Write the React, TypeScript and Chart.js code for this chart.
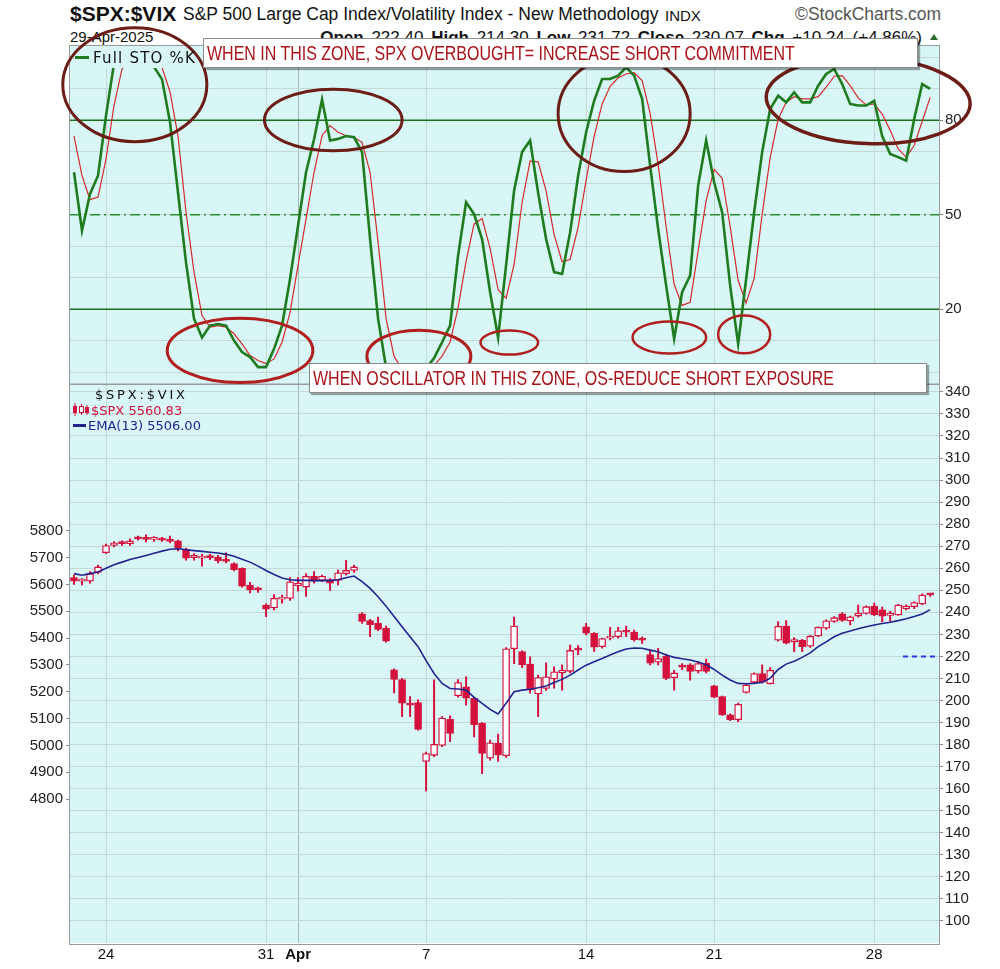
import React, { useEffect, useRef } from 'react';
import { Chart, registerables } from 'chart.js';

Chart.register(...registerables);

// ---------------- data (2-hour bars, 4 per session, 21-Mar .. 29-Apr-2025) ----------------
const sessions = ['Mar 21', 'Mar 24', 'Mar 25', 'Mar 26', 'Mar 27', 'Mar 28', 'Mar 31', 'Apr 1', 'Apr 2', 'Apr 3', 'Apr 4',
  'Apr 7', 'Apr 8', 'Apr 9', 'Apr 10', 'Apr 11', 'Apr 14', 'Apr 15', 'Apr 16', 'Apr 17', 'Apr 21', 'Apr 22', 'Apr 23',
  'Apr 24', 'Apr 25', 'Apr 28', 'Apr 29'];
const barsPerSession = 4;

const xTickBars = [4, 24, 28, 44, 64, 80, 100];
const xTickLabels = ['24', '31', 'Apr', '7', '14', '21', '28'];
const monthStartBar = 28;

const stoGridValues = [0, 10, 20, 30, 40, 50, 60, 70, 80, 90, 100];
const stoLabelValues = [20, 50, 80];
const overboughtLevel = 80;
const oversoldLevel = 20;
const midLevel = 50;

const ratioTickValues = [100, 110, 120, 130, 140, 150, 160, 170, 180, 190, 200, 210, 220, 230, 240, 250, 260, 270, 280, 290, 300, 310, 320, 330, 340];
const spxTickValues = [4800, 4900, 5000, 5100, 5200, 5300, 5400, 5500, 5600, 5700, 5800];
const ratioMarkerLevel = 220;
const ratioMarkerFromBar = 103.6;

const opens = [
  5625, 5612, 5612, 5645, 5718, 5745, 5756, 5752, 5775, 5770,
  5768, 5772, 5768, 5762, 5732, 5700, 5698, 5705, 5702, 5692,
  5678, 5660, 5597, 5585, 5523, 5512, 5545, 5548, 5595, 5590,
  5630, 5615, 5618, 5615, 5640, 5652, 5490, 5465, 5455, 5436,
  5282, 5245, 5157, 5160, 4940, 4963, 5000, 5097, 5185, 5218,
  5175, 5082, 4952, 5008, 4962, 5360, 5350, 5303, 5192, 5212,
  5248, 5270, 5276, 5356, 5442, 5418, 5368, 5400, 5405, 5426,
  5422, 5396, 5338, 5310, 5332, 5252, 5298, 5300, 5277, 5306,
  5222, 5182, 5114, 5096, 5197, 5235, 5268, 5230, 5392, 5445,
  5386, 5392, 5370, 5408, 5437, 5462, 5490, 5464, 5482, 5492,
  5518, 5505, 5484, 5486, 5510, 5517, 5527, 5563];
const highs = [
  5635, 5622, 5648, 5672, 5750, 5760, 5762, 5770, 5780, 5785,
  5778, 5775, 5780, 5765, 5735, 5715, 5712, 5712, 5708, 5718,
  5680, 5662, 5608, 5590, 5528, 5562, 5560, 5625, 5625, 5640,
  5648, 5635, 5622, 5653, 5690, 5672, 5495, 5470, 5478, 5445,
  5285, 5250, 5182, 5170, 4975, 5244, 5107, 5110, 5245, 5256,
  5180, 5085, 5020, 5042, 5365, 5478, 5352, 5330, 5262, 5308,
  5293, 5300, 5374, 5372, 5455, 5420, 5400, 5440, 5440, 5445,
  5430, 5405, 5356, 5362, 5340, 5280, 5305, 5305, 5312, 5322,
  5224, 5184, 5118, 5158, 5230, 5270, 5300, 5290, 5461, 5465,
  5402, 5395, 5410, 5442, 5468, 5480, 5495, 5482, 5523, 5520,
  5530, 5515, 5500, 5526, 5524, 5535, 5565, 5566];
const lows = [
  5600, 5598, 5605, 5640, 5715, 5740, 5745, 5745, 5765, 5758,
  5760, 5760, 5755, 5725, 5690, 5690, 5668, 5692, 5680, 5680,
  5650, 5590, 5568, 5570, 5480, 5505, 5530, 5540, 5575, 5555,
  5605, 5610, 5578, 5598, 5635, 5645, 5455, 5405, 5428, 5385,
  5196, 5107, 5107, 5057, 4830, 4958, 4995, 5014, 5180, 5150,
  5032, 4895, 4945, 4940, 4955, 5305, 5290, 5195, 5107, 5205,
  5213, 5206, 5270, 5338, 5412, 5350, 5362, 5393, 5400, 5405,
  5388, 5380, 5300, 5300, 5245, 5206, 5282, 5243, 5270, 5270,
  5178, 5112, 5092, 5088, 5195, 5232, 5232, 5228, 5388, 5378,
  5349, 5349, 5365, 5405, 5432, 5458, 5462, 5449, 5478, 5489,
  5483, 5461, 5462, 5484, 5505, 5510, 5524, 5555];
const closes = [
  5612, 5618, 5640, 5665, 5745, 5755, 5752, 5762, 5770, 5768,
  5770, 5765, 5760, 5735, 5698, 5708, 5702, 5700, 5688, 5686,
  5655, 5593, 5580, 5580, 5508, 5548, 5550, 5610, 5605, 5630,
  5612, 5630, 5605, 5643, 5652, 5665, 5462, 5450, 5432, 5388,
  5246, 5157, 5150, 5060, 4970, 5004, 5102, 5045, 5234, 5176,
  5077, 4970, 5010, 4965, 5360, 5445, 5300, 5207, 5253, 5256,
  5274, 5280, 5354, 5355, 5418, 5366, 5398, 5404, 5427, 5422,
  5394, 5392, 5306, 5324, 5250, 5270, 5292, 5276, 5305, 5276,
  5180, 5114, 5096, 5153, 5225, 5268, 5236, 5280, 5444, 5381,
  5394, 5368, 5407, 5440, 5464, 5476, 5466, 5479, 5492, 5517,
  5487, 5482, 5492, 5523, 5519, 5532, 5560, 5560.83];

const ema13 = [
  5640, 5634, 5640, 5646, 5660, 5673, 5683, 5693, 5700, 5708,
  5716, 5724, 5731, 5733, 5729, 5726, 5723, 5720, 5717, 5712,
  5705, 5694, 5683, 5668, 5652, 5637, 5624, 5617, 5615, 5615,
  5614, 5615, 5614, 5617, 5625, 5631, 5610, 5585, 5554, 5519,
  5480, 5442, 5405, 5368, 5316, 5268, 5231, 5212, 5210, 5206,
  5179, 5157, 5134, 5117, 5157, 5200, 5206, 5209, 5215, 5221,
  5234, 5246, 5262, 5281, 5299, 5312, 5324, 5337, 5349, 5359,
  5363, 5362, 5355, 5349, 5337, 5328, 5323, 5318, 5311, 5301,
  5283, 5262, 5244, 5231, 5230, 5231, 5235, 5250, 5283, 5303,
  5314, 5328, 5345, 5368, 5386, 5405, 5418, 5426, 5435, 5442,
  5449, 5454, 5459, 5465, 5472, 5480, 5490, 5506];

const stoK = [
  63.5, 45, 56.6, 62.4, 81.5, 98, 100, 100, 100, 99,
  97, 93, 79.4, 57, 34.8, 17, 11, 14.8, 15.3, 14.8,
  10, 6.4, 4.8, 1.6, 1.6, 7.4, 14.8, 29.6, 46.6, 63.5,
  74, 86.6, 73.6, 74.1, 75, 74.6, 69.9, 42.3, 17, 1.5,
  0.5, 0.8, 0.3, 0.5, 1.2, 4.5, 9.5, 14.8, 37, 54,
  50.2, 42.3, 25.4, 11, 34, 57.7, 69.9, 73.6, 57, 42.3,
  31.8, 31.2, 44.4, 62.4, 76.2, 86.2, 93.1, 93.1, 94.2, 96.8,
  94.2, 86.8, 65.6, 45.5, 27.5, 10.6, 25.4, 30.7, 59.3, 73.6,
  60.3, 50.8, 27.5, 9, 29.6, 50.8, 69.9, 83.6, 87.8, 85.7,
  88.9, 85.7, 85.7, 91, 94.7, 96.3, 91.5, 85.2, 84.7, 84.7,
  86.2, 75, 69.3, 68.3, 67.2, 80.4, 91.5, 90];
const stoD = [
  75, 62.4, 54.8, 55.6, 67.7, 84.7, 96.3, 99, 100, 99.7,
  98.6, 96.8, 89, 75, 50.8, 31.8, 18, 14.3, 14.8, 14.3,
  12.2, 9, 5.3, 3.7, 2.7, 4.2, 9.5, 19, 33.9, 48.7,
  63.5, 75.1, 78.3, 76.2, 75.1, 74.6, 73, 63.5, 41.3, 17,
  5, 1, 0.5, 0.5, 0.7, 2.1, 5.1, 9.6, 20.4, 35.3,
  47.1, 48.8, 39.3, 26.2, 23.5, 34.2, 53.9, 67.1, 66.8, 57.6,
  43.7, 35.1, 35.8, 46, 61, 74.9, 85.2, 90.8, 93.5, 94.7,
  95.1, 92.6, 82.2, 66, 46.2, 27.9, 21.2, 22.2, 38.5, 54.5,
  64.4, 61.6, 46.2, 29.1, 22, 29.8, 50.1, 68.1, 80.4, 85.7,
  87.5, 86.8, 86.8, 87.5, 90.5, 94, 94.2, 91, 87.1, 84.9,
  85.2, 82, 76.8, 70.9, 68.3, 72, 79.7, 87.3];

// hand-drawn annotation ellipses (centre in bar index / STO units, radii in bars / STO units)
const noteEllipses = [
  { bar: 7.6, sto: 91.3, rBars: 9, rSto: 18.1, color: '#6b1d16', width: 3, rot: 0 },
  { bar: 32.4, sto: 80.1, rBars: 8.6, rSto: 9.8, color: '#6b1d16', width: 3, rot: 0 },
  { bar: 20.75, sto: 6.9, rBars: 9.1, rSto: 10.2, color: '#b01e1e', width: 3, rot: 0 },
  { bar: 43.1, sto: 5, rBars: 6.5, rSto: 8.3, color: '#b01e1e', width: 3, rot: 0 },
  { bar: 54.4, sto: 9.4, rBars: 3.6, rSto: 3.8, color: '#b01e1e', width: 2.5, rot: 0 },
  { bar: 68.75, sto: 82.1, rBars: 8.25, rSto: 18.4, color: '#6b1d16', width: 3, rot: 0 },
  { bar: 74.4, sto: 11, rBars: 4.6, rSto: 5.1, color: '#b01e1e', width: 2.5, rot: 0 },
  { bar: 83.75, sto: 12, rBars: 3.25, rSto: 6, color: '#b01e1e', width: 2.5, rot: 0 },
  { bar: 99.25, sto: 86.3, rBars: 12.75, rSto: 13.7, color: '#6b1d16', width: 3.5, rot: 0.04 },
];

// ---------------- styles ----------------
const X_MIN = -0.5;
const X_MAX = 108.1;
const CANDLE_RED = '#d4113c';
const BG = '#d8f6f6';
const GRID = '#c4d8d4';
const GRID_MONTH = '#a6b6b2';
const FONT = '"Liberation Sans", Arial, Helvetica, sans-serif';
const DEJAVU = '"DejaVu Sans", Verdana, sans-serif';

const setTicks = (vals: number[]) => (s: any) => {
  s.ticks = vals.map((v) => ({ value: v }));
};
const fixSize = (w: number | null, h: number | null) => (s: any) => {
  if (w !== null) s.width = w;
  if (h !== null) s.height = h;
  s.paddingTop = 0;
  s.paddingBottom = 0;
  s.paddingLeft = 0;
  s.paddingRight = 0;
};
const xGridColor = (c: any) => (c.tick && c.tick.value === monthStartBar ? GRID_MONTH : GRID);

const panelPlugin = {
  id: 'panel',
  beforeDraw(chart: any) {
    const { ctx, chartArea: a } = chart;
    ctx.save();
    ctx.fillStyle = BG;
    ctx.fillRect(a.left, a.top, a.right - a.left, a.bottom - a.top);
    ctx.restore();
  },
  afterDraw(chart: any) {
    const { ctx, chartArea: a } = chart;
    ctx.save();
    ctx.strokeStyle = '#9a9a9a';
    ctx.lineWidth = 1;
    ctx.strokeRect(Math.round(a.left) - 0.5, Math.round(a.top) - 0.5, Math.round(a.right - a.left) + 1, Math.round(a.bottom - a.top) + 1);
    ctx.restore();
  },
};

const legendPatchPlugin = {
  id: 'legendPatch',
  afterDatasetsDraw(chart: any) {
    const { ctx, chartArea: a } = chart;
    ctx.save();
    ctx.fillStyle = BG;
    ctx.fillRect(a.left + 2, a.top + 1, 131, 21);
    ctx.restore();
  },
};

const ellipsePlugin = {
  id: 'noteEllipses',
  afterDraw(chart: any) {
    const { ctx } = chart;
    const xs = chart.scales.x;
    const ys = chart.scales.y;
    ctx.save();
    noteEllipses.forEach((e) => {
      const cx = xs.getPixelForValue(e.bar);
      const cy = ys.getPixelForValue(e.sto);
      const rx = xs.getPixelForValue(e.bar + e.rBars) - cx;
      const ry = cy - ys.getPixelForValue(e.sto + e.rSto);
      ctx.beginPath();
      ctx.ellipse(cx, cy, Math.abs(rx), Math.abs(ry), e.rot, 0, Math.PI * 2);
      ctx.strokeStyle = e.color;
      ctx.lineWidth = e.width;
      ctx.stroke();
    });
    ctx.restore();
  },
};

export default function App() {
  const topRef = useRef<HTMLCanvasElement>(null);
  const botRef = useRef<HTMLCanvasElement>(null);

  useEffect(() => {
    const charts: any[] = [];
    const pts = (arr: number[]) => arr.map((v, i) => ({ x: i, y: v }));
    const hline = (v: number, from: number) => [{ x: from, y: v }, { x: X_MAX, y: v }];

    if (topRef.current) {
      charts.push(
        new Chart(topRef.current, {
          type: 'line',
          data: {
            datasets: [
              { label: 'Full STO %K', data: pts(stoK), borderColor: '#1e7b1e', borderWidth: 2.6, order: 0 },
              { label: '%D', data: pts(stoD), borderColor: '#d42a2a', borderWidth: 1.2, order: 1 },
              { label: 'overbought', data: hline(overboughtLevel, X_MIN), borderColor: '#1b6e1b', borderWidth: 1.5, order: 2 },
              { label: 'oversold', data: hline(oversoldLevel, X_MIN), borderColor: '#1b6e1b', borderWidth: 1.5, order: 2 },
              { label: 'mid', data: hline(midLevel, X_MIN), borderColor: '#2e8b2e', borderWidth: 1.5, borderDash: [10, 4, 2, 4], order: 2 },
            ] as any,
          },
          options: {
            responsive: false,
            animation: false,
            events: [],
            elements: { point: { radius: 0 }, line: { tension: 0 } },
            layout: { padding: { left: 70, right: 0, top: 46, bottom: 16.5 } },
            plugins: { legend: { display: false }, tooltip: { enabled: false } },
            scales: {
              x: {
                type: 'linear', min: X_MIN, max: X_MAX,
                afterBuildTicks: setTicks(xTickBars), afterFit: fixSize(null, 0),
                ticks: { display: false },
                grid: { color: xGridColor, drawTicks: false },
                border: { display: false },
              },
              y: {
                type: 'linear', position: 'right', min: -3.6, max: 103.6,
                afterBuildTicks: setTicks(stoGridValues), afterFit: fixSize(61, null),
                ticks: {
                  autoSkip: false, padding: 2, color: '#222', font: { family: FONT, size: 15 },
                  callback: (v: any) => (stoLabelValues.includes(v) ? String(v) : ''),
                },
                grid: {
                  color: GRID, tickLength: 4,
                  tickColor: (c: any) => (c.tick && stoLabelValues.includes(c.tick.value) ? '#808080' : 'rgba(0,0,0,0)'),
                },
                border: { display: false },
              },
            },
          } as any,
          plugins: [panelPlugin, legendPatchPlugin, ellipsePlugin],
        })
      );
    }

    if (botRef.current) {
      charts.push(
        new Chart(botRef.current, {
          type: 'bar',
          data: {
            datasets: [
              {
                type: 'line', label: 'level', data: hline(ratioMarkerLevel, ratioMarkerFromBar), yAxisID: 'ratio',
                borderColor: '#2b3be8', borderDash: [5, 4], borderWidth: 2, pointRadius: 0, order: 0,
              },
              {
                type: 'line', label: 'EMA(13)', data: pts(ema13), yAxisID: 'spx',
                borderColor: '#23238f', borderWidth: 1.6, pointRadius: 0, tension: 0, order: 1,
              },
              {
                type: 'bar', label: 'body', data: opens.map((o, i) => ({ x: i, y: [o, closes[i]] })), yAxisID: 'spx',
                backgroundColor: opens.map((o, i) => (closes[i] > o ? '#ffffff' : CANDLE_RED)),
                borderColor: CANDLE_RED, borderWidth: 1.3, borderSkipped: false, barThickness: 7,
                grouped: false, minBarLength: 2, order: 2,
              },
              {
                type: 'bar', label: 'wick', data: lows.map((l, i) => ({ x: i, y: [l, highs[i]] })), yAxisID: 'spx',
                backgroundColor: CANDLE_RED, borderWidth: 0, barThickness: 1.3, grouped: false, order: 3,
              },
            ] as any,
          },
          options: {
            responsive: false,
            animation: false,
            events: [],
            layout: { padding: { left: 0, right: 0, top: 3.5, bottom: 0 } },
            plugins: { legend: { display: false }, tooltip: { enabled: false } },
            scales: {
              x: {
                type: 'linear', min: X_MIN, max: X_MAX, offset: false,
                afterBuildTicks: setTicks(xTickBars), afterFit: fixSize(null, 26),
                ticks: {
                  autoSkip: false, maxRotation: 0, minRotation: 0, padding: 3, color: '#111',
                  font: (c: any) => ({ family: FONT, size: 15, weight: c.tick && c.tick.value === monthStartBar ? 'bold' : 'normal' }),
                  callback: (_v: any, idx: number) => xTickLabels[idx],
                },
                grid: { offset: false, color: xGridColor, drawTicks: false },
                border: { display: false },
              },
              spx: {
                type: 'linear', position: 'left', min: 4263.7, max: 6348.6,
                afterBuildTicks: setTicks(spxTickValues), afterFit: fixSize(70, null),
                ticks: { autoSkip: false, padding: 3, color: '#222', font: { family: FONT, size: 15 }, callback: (v: any) => String(v) },
                grid: { drawOnChartArea: false, tickLength: 4, color: '#8a8a8a' },
                border: { display: false },
              },
              ratio: {
                type: 'linear', position: 'right', min: 90, max: 343.8,
                afterBuildTicks: setTicks(ratioTickValues), afterFit: fixSize(61, null),
                ticks: { autoSkip: false, padding: 2, color: '#222', font: { family: FONT, size: 15 }, callback: (v: any) => String(v) },
                grid: { color: GRID, tickLength: 4, tickColor: '#8a8a8a' },
                border: { display: false },
              },
            },
          } as any,
          plugins: [panelPlugin],
        })
      );
    }

    return () => charts.forEach((c) => c.destroy());
  }, []);

  const abs = (extra: any) => ({ position: 'absolute', whiteSpace: 'nowrap', ...extra }) as any;

  const noteBox = {
    position: 'absolute', boxSizing: 'border-box', background: '#ffffff', border: '1px solid #8a8a8a',
    boxShadow: '2px 2px 1px rgba(0,0,0,0.35)', color: '#a8141a', fontFamily: FONT, fontSize: 19.5,
    height: 30, lineHeight: '28px', paddingLeft: 3, whiteSpace: 'nowrap', zIndex: 5, overflow: 'hidden',
  } as any;
  const narrow = { display: 'inline-block', transform: 'scaleX(0.82)', transformOrigin: '0 50%' } as any;

  return (
    <div style={{ position: 'absolute', left: 0, top: 0, width: 1000, height: 969, background: '#ffffff', fontFamily: FONT, color: '#111', overflow: 'hidden' }}>
      {/* header */}
      <div style={abs({ left: 70, top: 3, fontSize: 21, lineHeight: '21px', fontWeight: 'bold', zIndex: 1 })}>$SPX:$VIX</div>
      <div style={abs({ left: 183, top: 6, fontSize: 17.5, lineHeight: '17.5px', zIndex: 1 })}>S&amp;P 500 Large Cap Index/Volatility Index - New Methodology</div>
      <div style={abs({ left: 665, top: 8, fontSize: 15, lineHeight: '15px', zIndex: 1 })}>INDX</div>
      <div style={abs({ left: 795, top: 6, fontSize: 17.5, lineHeight: '17.5px', color: '#555', zIndex: 1 })}>©StockCharts.com</div>
      <div style={abs({ left: 70, top: 29, fontSize: 15, lineHeight: '15px', zIndex: 1 })}>29-Apr-2025</div>
      <div style={abs({ right: 78, top: 29, fontSize: 17, lineHeight: '17px', wordSpacing: 3, zIndex: 1 })}>
        <b>Open</b> 222.40 <b>High</b> 214.30 <b>Low</b> 231.72 <b>Close</b> 230.07 <b>Chg</b> +10.24 (+4.86%)
      </div>
      <div style={abs({ left: 930, top: 34, width: 0, height: 0, borderLeft: '4px solid transparent', borderRight: '4px solid transparent', borderBottom: '6px solid #2a6a2a', zIndex: 1 })} />

      {/* charts */}
      <canvas ref={botRef} width={1000} height={589} style={{ position: 'absolute', left: 0, top: 380, width: 1000, height: 589, zIndex: 2 }} />
      <canvas ref={topRef} width={1000} height={400} style={{ position: 'absolute', left: 0, top: 0, width: 1000, height: 400, zIndex: 3 }} />

      {/* top panel legend */}
      <div style={abs({ left: 75, top: 56, width: 14, height: 3, background: '#1e7b1e', zIndex: 4 })} />
      <div style={abs({ left: 93, top: 50.5, fontFamily: DEJAVU, fontSize: 15, lineHeight: '15px', letterSpacing: 1.2, color: '#111', zIndex: 4 })}>Full STO %K</div>

      {/* bottom panel legend */}
      <div style={abs({ left: 95, top: 388, fontFamily: DEJAVU, fontSize: 13, lineHeight: '13px', letterSpacing: 2.8, color: '#111', zIndex: 4 })}>$SPX:$VIX</div>
      <svg width="18" height="13" style={{ position: 'absolute', left: 72, top: 403, zIndex: 4 }}>
        <line x1="3" y1="0" x2="3" y2="13" stroke={CANDLE_RED} strokeWidth="1" />
        <rect x="1" y="3" width="4" height="7" fill={CANDLE_RED} />
        <line x1="9.5" y1="1" x2="9.5" y2="12" stroke={CANDLE_RED} strokeWidth="1" />
        <rect x="7.5" y="3.5" width="4" height="6" fill="#ffffff" stroke={CANDLE_RED} strokeWidth="1" />
        <line x1="15" y1="2" x2="15" y2="12" stroke={CANDLE_RED} strokeWidth="1" />
        <rect x="13" y="4" width="4" height="6" fill={CANDLE_RED} />
      </svg>
      <div style={abs({ left: 91, top: 404, fontFamily: DEJAVU, fontSize: 13, lineHeight: '13px', color: CANDLE_RED, zIndex: 4 })}>$SPX 5560.83</div>
      <div style={abs({ left: 73, top: 424, width: 13, height: 3, background: '#23238f', zIndex: 4 })} />
      <div style={abs({ left: 88, top: 419, fontFamily: DEJAVU, fontSize: 13, lineHeight: '13px', color: '#23238f', zIndex: 4 })}>EMA(13) 5506.00</div>

      {/* annotation boxes */}
      <div style={{ ...noteBox, left: 203, top: 38, width: 715 }}>
        <span style={narrow}>WHEN IN THIS ZONE, SPX OVERBOUGHT= INCREASE SHORT COMMITMENT</span>
      </div>
      <div style={{ ...noteBox, left: 309, top: 363, width: 618 }}>
        <span style={narrow}>WHEN OSCILLATOR IN THIS ZONE, OS-REDUCE SHORT EXPOSURE</span>
      </div>
    </div>
  );
}
